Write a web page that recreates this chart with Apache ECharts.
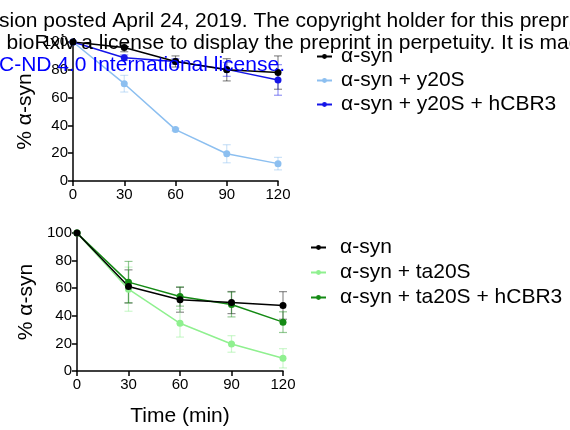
<!DOCTYPE html>
<html>
<head>
<meta charset="utf-8">
<script src="https://cdn.jsdelivr.net/npm/echarts@6/dist/echarts.min.js"></script>
<style>
  html, body { margin: 0; padding: 0; background: #fff; }
  #chart { width: 570px; height: 430px; }
</style>
</head>
<body>
<div id="chart"></div>
<script>
// time points (min)
var times = [0, 30, 60, 90, 120];

// top panel: y20S
var synTop = [100, 96, 86, 80, 78];
var synTopErr = [0, 3, 4, 8, 12];
var y20S = [100, 70, 37, 19.6, 12.5];
var y20SErr = [0, 6, 1, 6.5, 4.5];
var y20SCbr = [100, 88.7, 86, 80.3, 72.7];
var y20SCbrErr = [0, 2, 2, 5, 11];

// bottom panel: ta20S
var synBot = [100, 61.3, 51.6, 49.6, 47.5];
var synBotErr = [0, 12, 9, 8, 10];
var ta20S = [100, 59.3, 34.6, 19.6, 9.2];
var ta20SErr = [0, 16, 10, 6, 7];
var ta20SCbr = [100, 64.4, 54, 48.2, 35.4];
var ta20SCbrErr = [0, 15, 7, 9, 7.5];

var topNames = ['α-syn', 'α-syn + y20S', 'α-syn + y20S + hCBR3'];
var botNames = ['α-syn ', 'α-syn + ta20S', 'α-syn + ta20S + hCBR3'];

var FONT = 'Liberation Sans, Arial, sans-serif';

function pairs(vals) {
  return times.map(function (t, i) { return [t, vals[i]]; });
}

function lineSeries(name, vals, color, idx) {
  return {
    name: name,
    type: 'line',
    xAxisIndex: idx,
    yAxisIndex: idx,
    data: pairs(vals),
    symbol: 'circle',
    symbolSize: 7,
    color: color,
    lineStyle: { color: color, width: 1.5 },
    itemStyle: { color: color },
    z: 3
  };
}

function errSeries(vals, errs, color, idx) {
  var d = times.map(function (t, i) {
    return [t, vals[i] - errs[i], vals[i] + errs[i]];
  });
  return {
    type: 'custom',
    xAxisIndex: idx,
    yAxisIndex: idx,
    data: d,
    silent: true,
    z: 2,
    renderItem: function (params, api) {
      var lo = api.coord([api.value(0), api.value(1)]);
      var hi = api.coord([api.value(0), api.value(2)]);
      if (Math.abs(hi[1] - lo[1]) < 1) return null;
      var st = { stroke: color, lineWidth: 1.2, opacity: 0.45 };
      var w = 4;
      return {
        type: 'group',
        children: [
          { type: 'line', shape: { x1: lo[0], y1: lo[1], x2: hi[0], y2: hi[1] }, style: st },
          { type: 'line', shape: { x1: lo[0] - w, y1: lo[1], x2: lo[0] + w, y2: lo[1] }, style: st },
          { type: 'line', shape: { x1: hi[0] - w, y1: hi[1], x2: hi[0] + w, y2: hi[1] }, style: st }
        ]
      };
    }
  };
}

function xAxis(idx) {
  return {
    type: 'value', gridIndex: idx, min: 0, max: 120, interval: 30,
    axisLine: { lineStyle: { color: '#000', width: 1.5 } },
    axisTick: { length: 5, lineStyle: { color: '#000', width: 1.5 } },
    axisLabel: { color: '#000', fontSize: 15, fontFamily: FONT, margin: 6 },
    splitLine: { show: false },
    name: idx === 1 ? 'Time (min)' : '',
    nameLocation: 'middle',
    nameGap: 35,
    nameTextStyle: { color: '#000', fontSize: 21, fontFamily: FONT }
  };
}

function yAxis(idx, gap) {
  return {
    type: 'value', gridIndex: idx, min: 0, max: 100, interval: 20,
    axisLine: { show: true, lineStyle: { color: '#000', width: 1.5 } },
    axisTick: { show: true, length: 5, lineStyle: { color: '#000', width: 1.5 } },
    axisLabel: { color: '#000', fontSize: 15, fontFamily: FONT, margin: 5 },
    splitLine: { show: false },
    name: '% α-syn',
    nameLocation: 'middle',
    nameRotate: 90,
    nameGap: gap,
    nameTextStyle: { color: '#000', fontSize: 21, fontFamily: FONT }
  };
}

var colors = {
  black: '#000000',
  lightBlue: '#8cbff0',
  blue: '#1515e8',
  lightGreen: '#8ff08f',
  green: '#148a14'
};

var chart = echarts.init(document.getElementById('chart'));
chart.setOption({
  animation: false,
  backgroundColor: '#fff',
  grid: [
    { left: 73, top: 42, width: 205, height: 139 },
    { left: 77, top: 233, width: 206, height: 138 }
  ],
  xAxis: [xAxis(0), xAxis(1)],
  yAxis: [yAxis(0, 37), yAxis(1, 40)],
  legend: [
    {
      data: topNames, orient: 'vertical', left: 311, top: 41,
      itemWidth: 15, itemHeight: 6, itemGap: 3,
      textStyle: { color: '#000', fontSize: 21, fontFamily: FONT, padding: [0, 0, 0, 4] }
    },
    {
      data: botNames, orient: 'vertical', left: 305, top: 232,
      itemWidth: 15, itemHeight: 6, itemGap: 4,
      textStyle: { color: '#000', fontSize: 21, fontFamily: FONT, padding: [0, 0, 0, 9] }
    }
  ],
  series: [
    errSeries(synTop, synTopErr, colors.black, 0),
    errSeries(y20S, y20SErr, colors.lightBlue, 0),
    errSeries(y20SCbr, y20SCbrErr, colors.blue, 0),
    lineSeries(topNames[1], y20S, colors.lightBlue, 0),
    lineSeries(topNames[2], y20SCbr, colors.blue, 0),
    lineSeries(topNames[0], synTop, colors.black, 0),
    errSeries(synBot, synBotErr, colors.black, 1),
    errSeries(ta20S, ta20SErr, colors.lightGreen, 1),
    errSeries(ta20SCbr, ta20SCbrErr, colors.green, 1),
    lineSeries(botNames[1], ta20S, colors.lightGreen, 1),
    lineSeries(botNames[2], ta20SCbr, colors.green, 1),
    lineSeries(botNames[0], synBot, colors.black, 1)
  ],
  graphic: [
    {
      type: 'text', left: -1, top: 11, z: 100, silent: true,
      style: { text: 'sion posted April 24, 2019. The copyright holder for this preprint', fill: '#000', fontSize: 21, fontFamily: FONT }
    },
    {
      type: 'text', left: -11, top: 33, z: 100, silent: true,
      style: { text: 'd bioRxiv a license to display the preprint in perpetuity. It is made', fill: '#000', fontSize: 21, fontFamily: FONT }
    },
    {
      type: 'text', left: -1, top: 55, z: 100, silent: true,
      style: { text: 'C-ND 4.0 International license.', fill: '#0000ff', fontSize: 21, fontFamily: FONT }
    }
  ]
});
</script>
</body>
</html>
